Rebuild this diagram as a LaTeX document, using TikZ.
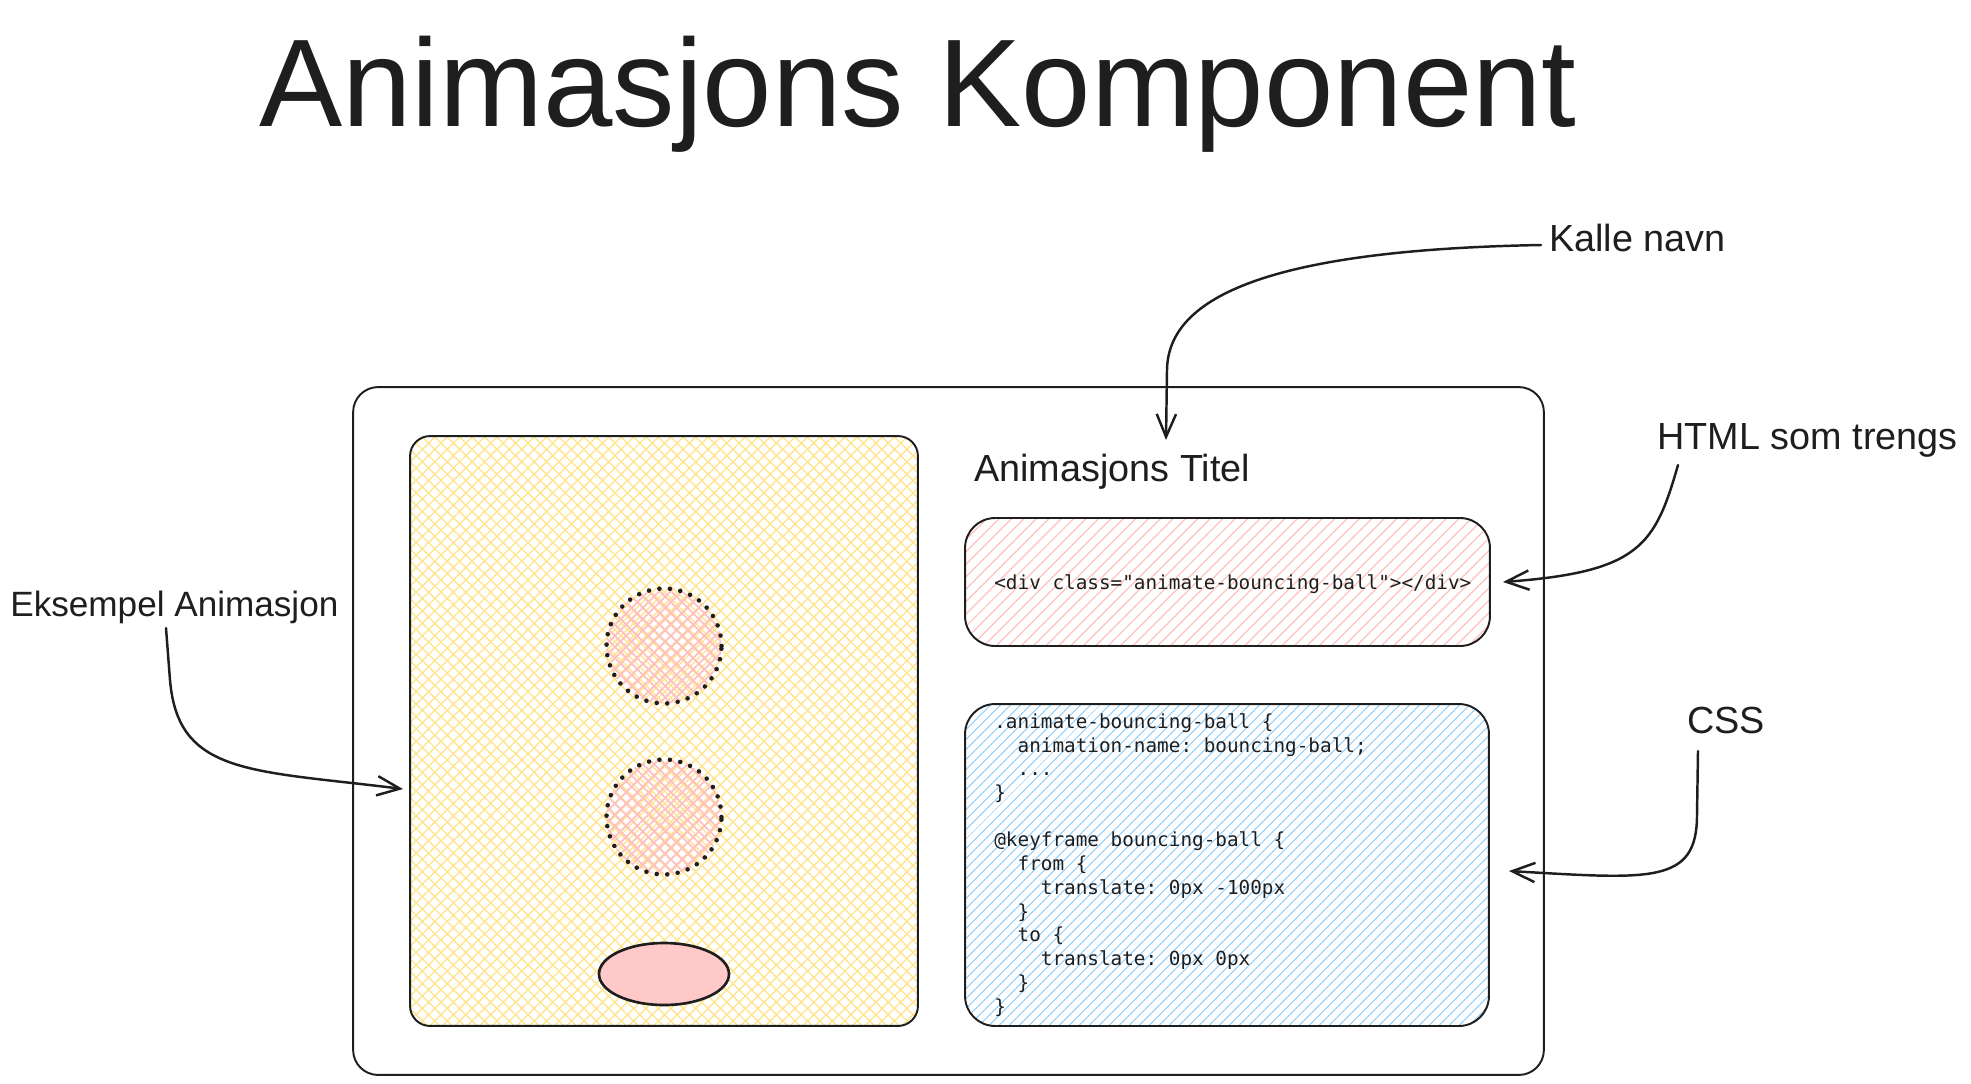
\documentclass[tikz,border=0pt]{standalone}
\usepackage{fontspec}
\setmainfont{Liberation Sans}
\newfontfamily\codefont{DejaVu Sans Mono}
\usetikzlibrary{patterns.meta,arrows.meta,shapes.geometric}
\definecolor{ink}{HTML}{1E1E1E}
\definecolor{yel}{HTML}{FFE58F}
\definecolor{pnk}{HTML}{FFC0C0}
\definecolor{ballfill}{HTML}{FFC9C9}
\definecolor{blu}{HTML}{A5D8FF}
\tikzset{
  box/.style={draw=ink, line width=1.1pt, inner sep=0pt, outer sep=0pt},
  lbl/.style={text=ink, font=\fontsize{21.5}{25}\selectfont, anchor=base west, inner sep=0pt},
  code/.style={text=ink, font=\codefont\fontsize{11}{13.5}\selectfont\frenchspacing, inner sep=0pt},
  arr/.style={draw=ink, line width=1.4pt, line cap=round, -{Straight Barb[length=13pt,width=11pt,line width=1.4pt]}},
  ghost/.style={circle, inner sep=0pt, minimum size=2.3cm,
    pattern={Hatch[angle=45,distance=4.5pt,line width=1pt]}, pattern color=pnk,
    postaction={draw=ink, line width=2.6pt, line cap=round, dash pattern=on 0pt off 6pt}}
}
\begin{document}
\begin{tikzpicture}[x=0.02cm,y=-0.02cm]
\useasboundingbox (0,0) rectangle (1971,1083);

% title
\node[text=ink, font=\fontsize{71}{80}\selectfont, anchor=base, inner sep=0pt] (title) at (918,126) {Animasjons Komponent};

% outer box
\node[box, rounded corners=0.5cm, minimum width=23.82cm, minimum height=13.76cm] (outer) at (948.5,731) {};

% yellow animation panel
\node[box, rounded corners=0.4cm, minimum width=10.16cm, minimum height=11.8cm,
  pattern={Hatch[angle=45,distance=5pt,line width=0.8pt]}, pattern color=yel] (anim) at (664,731) {};
\node[ghost] (ball1) at (664,646) {};
\node[ghost] (ball2) at (664,817) {};
\node[ellipse, draw=ink, line width=1.5pt, fill=ballfill, inner sep=0pt, minimum width=2.6cm, minimum height=1.24cm] (ball3) at (664,974) {};

% title text inside
\node[lbl] (titel) at (974,481) {Animasjons Titel};

% html box
\node[box, rounded corners=0.6cm, minimum width=10.5cm, minimum height=2.56cm,
  pattern={Lines[angle=45,distance=5pt,line width=0.7pt]}, pattern color=pnk] (html) at (1227.5,582) {};
\node[code, anchor=base west] (htmlcode) at (994,589) {<div class="animate-bouncing-ball"></div>};

% css box
\node[box, rounded corners=0.6cm, minimum width=10.48cm, minimum height=6.44cm,
  pattern={Lines[angle=45,distance=4pt,line width=0.7pt]}, pattern color=blu] (css) at (1227,865) {};
\node[code, anchor=base west, align=left] (csscode) at (994,1013) {%
.animate-bouncing-ball \{\\
\hphantom{xx}animation-name: bouncing-ball;\\
\hphantom{xx}...\\
\}\\
\strut\\
@keyframe bouncing-ball \{\\
\hphantom{xx}from \{\\
\hphantom{xxxx}translate: 0px -100px\\
\hphantom{xx}\}\\
\hphantom{xx}to \{\\
\hphantom{xxxx}translate: 0px 0px\\
\hphantom{xx}\}\\
\}};

% labels
\node[lbl] (kalle) at (1549,251) {Kalle navn};
\node[lbl] (htmllbl) at (1657,449) {HTML som trengs};
\node[lbl] (csslbl) at (1687,733) {CSS};
\node[lbl, font=\fontsize{20}{24}\selectfont] (eks) at (10,616) {Eksempel Animasjon};

% connector end points
\coordinate (kalleS) at (1541,245);
\coordinate (kalleT) at (1166,440);
\coordinate (htmlS) at (1678,465);
\coordinate (htmlT) at (1503,582);
\coordinate (cssS) at (1698,751);
\coordinate (cssT) at (1509,871);
\coordinate (eksS) at (166,628);
\coordinate (eksT) at (403,789);

\draw[arr] (kalleS) .. controls (1260,250) and (1168,300) .. (1167,370) -- (kalleT);
\draw[arr] (htmlS) .. controls (1655,545) and (1640,572) .. (htmlT);
\draw[arr] (cssS) -- (1697,815) .. controls (1697,885) and (1650,879) .. (cssT);
\draw[arr] (eksS) -- (170,680) .. controls (178,775) and (250,770) .. (eksT);
\end{tikzpicture}
\end{document}
